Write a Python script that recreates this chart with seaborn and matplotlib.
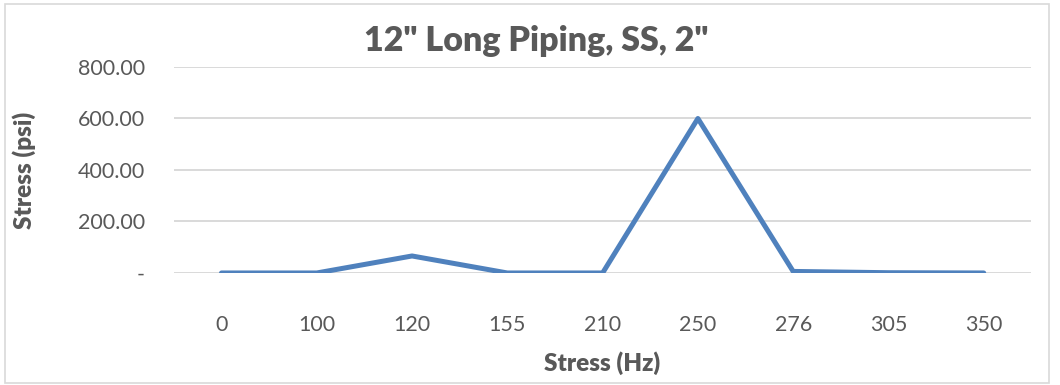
import matplotlib
matplotlib.use("Agg")
import matplotlib.pyplot as plt
import matplotlib.ticker as mticker
import pandas as pd
import seaborn as sns

# Data
frequencies = ["0", "100", "120", "155", "210", "250", "276", "305", "350"]
stress_psi = [0, 0, 66, 0, 0, 600, 6, 1, 0]
y_ticks = [0, 200, 400, 600, 800]

df = pd.DataFrame({"freq": frequencies, "stress": stress_psi})

sns.set_theme(style="white")
plt.rcParams["font.family"] = ["Lato", "DejaVu Sans"]

text_color = "#595959"
fig = plt.figure(figsize=(10.6, 3.85), dpi=100)
ax = fig.add_axes([0.164, 0.291, 0.809, 0.535])

sns.lineplot(data=df, x="freq", y="stress", ax=ax, color="#4F81BD",
             linewidth=3.6, sort=False, solid_capstyle="round")

ax.set_xlim(-0.5, len(frequencies) - 0.5)
ax.set_ylim(0, 800)
ax.set_yticks(y_ticks)
ax.yaxis.set_major_formatter(
    mticker.FuncFormatter(lambda v, p: "-" if v == 0 else f"{v:,.2f}"))
ax.grid(axis="y", color="#D9D9D9", linewidth=1.4)
ax.set_axisbelow(True)
for s in ax.spines.values():
    s.set_visible(False)
ax.tick_params(axis="both", length=0, labelsize=15.5, colors=text_color)
ax.tick_params(axis="x", pad=30)
ax.tick_params(axis="y", pad=21)

ax.set_xlabel("Stress (Hz)", fontsize=17.5, fontweight="heavy", color=text_color, labelpad=12)
ax.set_ylabel("Stress (psi)", fontsize=17.5, fontweight="heavy", color=text_color, labelpad=30)
fig.suptitle('12" Long Piping, SS, 2"', x=0.506, y=0.935, fontsize=24.5,
             fontweight="heavy", color=text_color)

# light border around chart area, like the spreadsheet chart frame
fig.patches.append(plt.Rectangle((0.005, 0.005), 0.985, 0.985, transform=fig.transFigure,
                                 fill=False, edgecolor="#D9D9D9", linewidth=1.2))

fig.savefig("out.png", dpi=100)
